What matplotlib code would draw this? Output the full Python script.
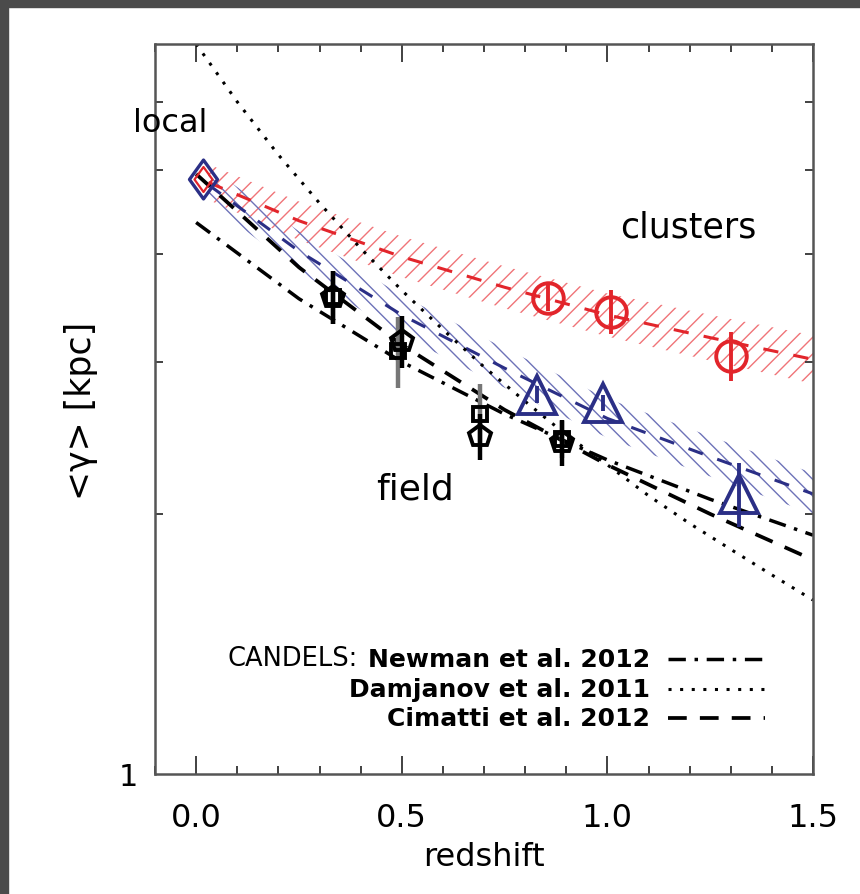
import matplotlib
matplotlib.use("Agg")
import matplotlib.pyplot as plt
from matplotlib.path import Path
from matplotlib.lines import Line2D
from matplotlib.patches import Rectangle
from matplotlib.ticker import FixedLocator, NullFormatter, MultipleLocator

# ---- data ----
# local (z~0) reference
z_local = [0.017]
r_local = [4.89]

# cluster galaxies (red circles)
z_clu = [0.855, 1.01, 1.30]
r_clu = [3.56, 3.43, 3.05]
e_clu = [0.12, 0.20, 0.20]

# field galaxies (blue triangles)
z_tri = [0.83, 0.99, 1.32]
r_tri = [2.75, 2.69, 2.11]
e_tri = [0.06, 0.06, 0.18]

# CANDELS field points (black pentagons / squares)
z_pent = [0.333, 0.50, 0.69, 0.89]
r_pent = [3.57, 3.17, 2.46, 2.42]
e_pent = [0.25, 0.22, 0.15, 0.15]

z_sq = [0.333, 0.49, 0.69, 0.89]
r_sq = [3.57, 3.09, 2.61, 2.44]
e_sq = [0.25, 0.29, 0.22, 0.12]

# literature relations
z_lit = [0.0, 0.25, 0.5, 0.75, 1.0, 1.25, 1.5]
newman = [4.35, 3.55, 3.00, 2.61, 2.31, 2.08, 1.89]
cimatti = [4.95, 3.86, 3.14, 2.64, 2.28, 2.00, 1.77]

z_dam = [0.0, 0.1, 0.2, 0.3, 0.4, 0.5, 0.6, 0.7, 0.8, 0.9, 1.0, 1.1, 1.2, 1.3, 1.4, 1.5]
damjanov = [7.0, 6.00, 5.21, 4.58, 4.06, 3.63, 3.27, 2.96, 2.70, 2.47, 2.28, 2.10, 1.95, 1.82, 1.70, 1.59]

# fitted bands
z_band = [0.03, 0.25, 0.5, 0.75, 1.0, 1.25, 1.5]
red_mid = [4.84, 4.37, 3.97, 3.66, 3.40, 3.20, 3.02]
red_hi = [5.08, 4.60, 4.19, 3.87, 3.60, 3.40, 3.22]
red_lo = [4.62, 4.15, 3.76, 3.46, 3.21, 3.01, 2.83]
blue_mid = [4.81, 4.03, 3.40, 2.95, 2.58, 2.33, 2.11]
blue_hi = [5.05, 4.25, 3.58, 3.11, 2.72, 2.46, 2.23]
blue_lo = [4.59, 3.82, 3.22, 2.80, 2.45, 2.21, 2.00]

legend_names = ["Newman et al. 2012", "Damjanov et al. 2011", "Cimatti et al. 2012"]

RED = "#e2252b"
RED_H = "#f07478"
NAVY = "#2b2f86"
NAVY_H = "#6d72b8"

plt.rcParams["hatch.linewidth"] = 1.0

W, H = 860, 895
fig = plt.figure(figsize=(W / 100, H / 100), dpi=100, facecolor="white")
ax = fig.add_axes([155 / W, 1 - 775 / H, (813 - 155) / W, (775 - 45) / H])

# hatched bands
ax.fill_between(z_band, red_lo, red_hi, facecolor="none", edgecolor=RED_H,
                hatch="//", linewidth=0)
ax.fill_between(z_band, blue_lo, blue_hi, facecolor="none", edgecolor=NAVY_H,
                hatch="\\\\", linewidth=0)
ax.plot(z_band, red_mid, color=RED, lw=2.2, dashes=(5, 5))
ax.plot(z_band, blue_mid, color=NAVY, lw=2.2, dashes=(5, 5))

# literature lines
ax.plot(z_lit, newman, color="black", lw=2.5, dashes=(5, 2.5, 1, 2.5))
ax.plot(z_dam, damjanov, color="black", lw=2.2, dashes=(1, 2.8))
ax.plot(z_lit, cimatti, color="black", lw=2.7, dashes=(5, 3.5))

# field points
ax.errorbar(z_sq, r_sq, yerr=e_sq, fmt="s", ms=10, mfc="none", mec="black",
            mew=2.8, ecolor="#777777", elinewidth=3.2, capsize=0)
ax.errorbar(z_pent, r_pent, yerr=e_pent, fmt="p", ms=16, mfc="none", mec="black",
            mew=2.8, ecolor="black", elinewidth=3.2, capsize=0)

# clusters and field comparison
ax.errorbar(z_clu, r_clu, yerr=e_clu, fmt="o", ms=22, mfc="none", mec=RED,
            mew=2.8, ecolor=RED, elinewidth=2.8, capsize=0)
ax.errorbar(z_tri, r_tri, yerr=e_tri, fmt="^", ms=28, mfc="none", mec=NAVY,
            mew=2.8, ecolor=NAVY, elinewidth=2.8, capsize=0)

# local diamond
diamond = Path([(0, 1), (0.72, 0), (0, -1), (-0.72, 0), (0, 1)],
               [Path.MOVETO, Path.LINETO, Path.LINETO, Path.LINETO, Path.CLOSEPOLY])
ax.plot(z_local, r_local, marker=diamond, ms=28, mfc="none", mec=NAVY, mew=2.4, ls="none")
ax.plot(z_local, r_local, marker=diamond, ms=18, mfc="none", mec=RED, mew=1.6, ls="none")

# axes
ax.set_xlim(-0.1, 1.5)
ax.set_yscale("log")
ax.set_ylim(1, 7)
ax.xaxis.set_major_locator(FixedLocator([0.0, 0.5, 1.0, 1.5]))
ax.xaxis.set_minor_locator(MultipleLocator(0.1))
ax.set_xticklabels(["0.0", "0.5", "1.0", "1.5"])
ax.yaxis.set_major_locator(FixedLocator([1]))
ax.yaxis.set_minor_locator(FixedLocator([2, 3, 4, 5, 6]))
ax.yaxis.set_minor_formatter(NullFormatter())
ax.set_yticklabels(["1"])
ax.tick_params(which="both", direction="in", top=True, right=True,
               color="#333333", width=1.3)
ax.tick_params(which="major", length=13, labelsize=23, pad=20)
ax.tick_params(axis="y", which="major", length=0, labelsize=22, pad=12)
ax.tick_params(which="minor", length=6)
for sp in ax.spines.values():
    sp.set_color("#555555")
    sp.set_linewidth(1.8)

fig.text(0.5628, 1 - 858 / H, "redshift", fontsize=23, ha="center", va="center")
fig.text(81 / W, 1 - 411 / H, "<\u03b3> [kpc]", fontsize=25, rotation=90,
         ha="center", va="center")

# annotations
fig.text(170 / W, 1 - 124 / H, "local", fontsize=23, ha="center", va="center")
fig.text(688 / W, 1 - 227 / H, "clusters", fontsize=25, ha="center", va="center")
fig.text(415 / W, 1 - 490 / H, "field", fontsize=26, ha="center", va="center")

# legend
fig.text(228 / W, 1 - 659 / H, "CANDELS:", fontsize=18.5, ha="left", va="center")
leg_y = [660, 690, 719]
leg_style = [dict(lw=2.5, dashes=(5, 2.5, 1, 2.5)),
             dict(lw=2.2, dashes=(1, 2.8)),
             dict(lw=2.7, dashes=(5, 3.5))]
for name, yy, st in zip(legend_names, leg_y, leg_style):
    fig.text(650 / W, 1 - yy / H, name, fontsize=18, fontweight="bold",
             ha="right", va="center")
    fig.add_artist(Line2D([668 / W, 765 / W], [1 - yy / H, 1 - yy / H],
                          transform=fig.transFigure, color="black", **st))

# dark slide border
fig.add_artist(Rectangle((0, 1 - 8 / H), 1, 8 / H, transform=fig.transFigure,
                         color="#4b4b4b", zorder=10))
fig.add_artist(Rectangle((0, 0), 8 / W, 1, transform=fig.transFigure,
                         color="#4b4b4b", zorder=10))

fig.savefig("out.png", dpi=100, facecolor="white")
